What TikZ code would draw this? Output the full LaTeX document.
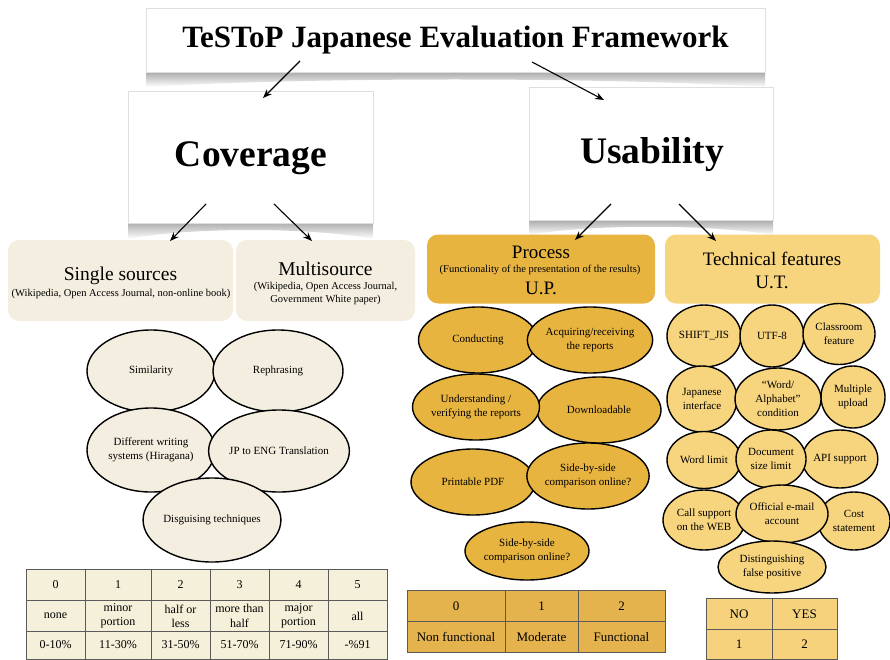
\documentclass[tikz,border=0pt]{standalone}
\usepackage{fontspec}
\setmainfont{Liberation Serif}
\usetikzlibrary{shapes.geometric,arrows.meta}
\definecolor{cream}{HTML}{F3EEDF}
\definecolor{procgold}{HTML}{E8B440}
\definecolor{techgold}{HTML}{F7D47E}
\definecolor{tabcream}{HTML}{F5F0DA}
\definecolor{tabproc}{HTML}{E4B34D}
\definecolor{tabtech}{HTML}{F6D27C}
\definecolor{gridc}{HTML}{5A5A5A}
\begin{document}
\begin{tikzpicture}[x=1pt,y=-1pt,
  wbox/.style={draw=gray!25, line width=0.8pt, fill=white, inner sep=0pt},
  rbox/.style={rounded corners=11pt, inner sep=0pt},
  ell/.style={ellipse, draw=black, line width=1.4pt, inner sep=0pt, align=center, font=\fontsize{11}{14}\selectfont},
  arr/.style={-{Stealth[length=9pt,width=7pt]}, line width=1.1pt},
  tcell/.style={align=center, font=\fontsize{12}{14.3}\selectfont, inner sep=0pt},
  pcell/.style={align=center, font=\fontsize{13}{15}\selectfont, inner sep=0pt},
  txt/.style={align=center, inner sep=0pt},
  grid/.style={draw=gridc, line width=0.8pt},
]
\useasboundingbox (0,0) rectangle (890,660);
\fill[white] (0,0) rectangle (890,660);

% ---------- shadows ----------
\shade[top color=gray!75, bottom color=white] (146,70) -- (765,70) -- (765,87) .. controls (600,77) and (310,77) .. (146,87) -- cycle;
\shade[top color=gray!75, bottom color=white] (128,220) -- (373,220) -- (373,239) .. controls (310,227) and (190,227) .. (128,239) -- cycle;
\shade[top color=gray!75, bottom color=white] (529,218) -- (773,218) -- (773,235) .. controls (710,224) and (590,224) .. (529,235) -- cycle;

% ---------- main boxes ----------
\node[wbox, minimum width=619pt, minimum height=64pt] (title) at (455.5,40)
  {\fontsize{31}{34}\selectfont\bfseries TeSToP Japanese Evaluation Framework};
\node[wbox, minimum width=245pt, minimum height=132pt] (coverage) at (250.5,157) {};
\node[txt, font=\fontsize{37.5}{40}\selectfont\bfseries] (covtxt) at (251,158) {Coverage};
\node[wbox, minimum width=244pt, minimum height=133pt] (usability) at (651,153.5) {};
\node[txt, font=\fontsize{37.5}{40}\selectfont\bfseries] (usatxt) at (652,155) {Usability};

% ---------- sub boxes ----------
\node[rbox, fill=cream, minimum width=225pt, minimum height=81pt] (single) at (120.5,280.5) {};
\node[txt, font=\fontsize{19.5}{22}\selectfont] (singlet) at (120.5,276) {Single sources};
\node[txt, font=\fontsize{10.5}{13}\selectfont] (singles) at (121,293.5) {(Wikipedia, Open Access Journal, non-online book)};

\node[rbox, fill=cream, minimum width=179pt, minimum height=81pt] (multi) at (325.5,280.5) {};
\node[txt, font=\fontsize{19.5}{22}\selectfont] (multit) at (325.5,269) {Multisource};
\node[txt, font=\fontsize{10.5}{13}\selectfont] (multis) at (325.5,293) {(Wikipedia, Open Access Journal,\\Government White paper)};

\node[rbox, fill=procgold, minimum width=228pt, minimum height=69pt] (process) at (541,269) {};
\node[txt, font=\fontsize{19}{22}\selectfont] (proct) at (541,252.5) {Process};
\node[txt, font=\fontsize{10.5}{12}\selectfont] (procs) at (540,270) {(Functionality of the presentation of the results)};
\node[txt, font=\fontsize{19}{22}\selectfont] (procu) at (541,288) {U.P.};

\node[rbox, fill=techgold, minimum width=215pt, minimum height=69pt] (tech) at (772.5,269) {};
\node[txt, font=\fontsize{19}{22}\selectfont] (techt) at (772,258.5) {Technical features};
\node[txt, font=\fontsize{19}{22}\selectfont] (techu) at (772,282) {U.T.};

% ---------- arrows ----------
\coordinate (a1s) at (300,61);  \coordinate (a1e) at (263,98);
\coordinate (a2s) at (532,62);  \coordinate (a2e) at (604,100);
\coordinate (a3s) at (206,204); \coordinate (a3e) at (170,241);
\coordinate (a4s) at (274,204); \coordinate (a4e) at (312,241);
\coordinate (a5s) at (611,204); \coordinate (a5e) at (575,240);
\coordinate (a6s) at (679,204); \coordinate (a6e) at (716,241);
\draw[arr] (a1s) -- (a1e);
\draw[arr] (a2s) -- (a2e);
\draw[arr] (a3s) -- (a3e);
\draw[arr] (a4s) -- (a4e);
\draw[arr] (a5s) -- (a5e);
\draw[arr] (a6s) -- (a6e);

% ---------- coverage ellipses ----------
\node[ell, fill=cream, minimum width=128pt, minimum height=82pt] (sim) at (151,371) {Similarity};
\node[ell, fill=cream, minimum width=130pt, minimum height=82pt] (reph) at (278,371) {Rephrasing};
\node[ell, fill=cream, minimum width=128pt, minimum height=84pt] (diff) at (151,450) {Different writing\\systems (Hiragana)};
\node[ell, fill=cream, minimum width=128pt, minimum height=82pt] (jp) at (279,451) {JP to ENG Translation};
\node[ell, fill=cream, minimum width=130pt, minimum height=84pt] (disg) at (212,520) {Disguising techniques};

% ---------- process ellipses ----------
\node[ell, fill=procgold, minimum width=119pt, minimum height=66pt] (cond) at (478,340) {Conducting};
\node[ell, fill=procgold, minimum width=124pt, minimum height=66pt] (acq) at (590,340) {Acquiring/receiving\\the reports};
\node[ell, fill=procgold, minimum width=124pt, minimum height=66pt] (down) at (599,410) {Downloadable};
\node[ell, fill=procgold, minimum width=122pt, minimum height=66pt] (under) at (476,407) {Understanding /\\verifying the reports};
\node[ell, fill=procgold, minimum width=124pt, minimum height=66pt] (pdf) at (473,482) {Printable PDF};
\node[ell, fill=procgold, minimum width=120pt, minimum height=66pt] (sbs1) at (588,476) {Side-by-side\\comparison online?};
\node[ell, fill=procgold, minimum width=124pt, minimum height=58pt] (sbs2) at (527,551) {Side-by-side\\comparison online?};

% ---------- technical ellipses ----------
\begin{scope}[every node/.append style={font=\fontsize{11.3}{14.3}\selectfont}]
\node[ell, fill=techgold, minimum width=74pt, minimum height=62pt] (sjis) at (704,336) {SHIFT\_JIS};
\node[ell, fill=techgold, minimum width=64pt, minimum height=62pt] (utf) at (772,336) {UTF-8};
\node[ell, fill=techgold, minimum width=72pt, minimum height=61pt] (class) at (839,334) {Classroom\\feature};
\node[ell, fill=techgold, minimum width=70pt, minimum height=66pt] (jint) at (702,399) {Japanese\\interface};
\node[ell, fill=techgold, minimum width=64pt, minimum height=62pt] (multu) at (853,397) {Multiple\\upload};
\node[ell, fill=techgold, minimum width=86pt, minimum height=62pt] (wordc) at (778,399) {``Word/\\Alphabet''\\condition};
\node[ell, fill=techgold, minimum width=74pt, minimum height=57pt] (wlim) at (704,460) {Word limit};
\node[ell, fill=techgold, minimum width=74pt, minimum height=58pt] (api) at (840,459) {API support};
\node[ell, fill=techgold, minimum width=70pt, minimum height=58pt] (dlim) at (771,459) {Document\\size limit};
\node[ell, fill=techgold, minimum width=82pt, minimum height=60pt] (call) at (704,520) {Call support\\on the WEB};
\node[ell, fill=techgold, minimum width=72pt, minimum height=58pt] (cost) at (854,521) {Cost\\statement};
\node[ell, fill=techgold, minimum width=92pt, minimum height=58pt] (mail) at (782,514) {Official e-mail\\account};
\node[ell, fill=techgold, minimum width=108pt, minimum height=52pt] (dist) at (772,567) {Distinguishing\\false positive};
\end{scope}

% ---------- coverage table ----------
\fill[tabcream] (26,569) rectangle (387,659);
\draw[grid] (26,569) rectangle (387,659);
\draw[grid] (26,600) -- (387,600) (26,631) -- (387,631);
\draw[grid] (85,569) -- (85,659) (151,569) -- (151,659) (210,569) -- (210,659) (269,569) -- (269,659) (328,569) -- (328,659);
\node[tcell] (c10) at (55.5,585) {0};
\node[tcell] (c11) at (118,585) {1};
\node[tcell] (c12) at (180.5,585) {2};
\node[tcell] (c13) at (239.5,585) {3};
\node[tcell] (c14) at (298.5,585) {4};
\node[tcell] (c15) at (357.5,585) {5};
\node[tcell] (c20) at (55.5,616) {none};
\node[tcell] (c21) at (118,616) {minor\\portion};
\node[tcell] (c22) at (180.5,616) {half or\\less};
\node[tcell] (c23) at (239.5,616) {more than\\half};
\node[tcell] (c24) at (298.5,616) {major\\portion};
\node[tcell] (c25) at (357.5,616) {all};
\node[tcell] (c30) at (55.5,645) {0-10\%};
\node[tcell] (c31) at (118,645) {11-30\%};
\node[tcell] (c32) at (180.5,645) {31-50\%};
\node[tcell] (c33) at (239.5,645) {51-70\%};
\node[tcell] (c34) at (298.5,645) {71-90\%};
\node[tcell] (c35) at (357.5,645) {-\%91};

% ---------- process table ----------
\fill[tabproc] (407,590) rectangle (665,652);
\draw[grid] (407,590) rectangle (665,652);
\draw[grid] (407,621) -- (665,621) (505,590) -- (505,652) (578,590) -- (578,652);
\node[pcell] (p10) at (456,606) {0};
\node[pcell] (p11) at (541.5,606) {1};
\node[pcell] (p12) at (621.5,606) {2};
\node[pcell] (p20) at (456,637) {Non functional};
\node[pcell] (p21) at (541.5,637) {Moderate};
\node[pcell] (p22) at (621.5,637) {Functional};

% ---------- technical table ----------
\fill[tabtech] (706,598) rectangle (837,659);
\draw[grid] (706,598) rectangle (837,659);
\draw[grid] (706,629) -- (837,629) (772,598) -- (772,659);
\node[pcell] (t10) at (739,614) {NO};
\node[pcell] (t11) at (804.5,614) {YES};
\node[pcell] (t20) at (739,644.5) {1};
\node[pcell] (t21) at (804.5,644.5) {2};
\end{tikzpicture}
\end{document}
